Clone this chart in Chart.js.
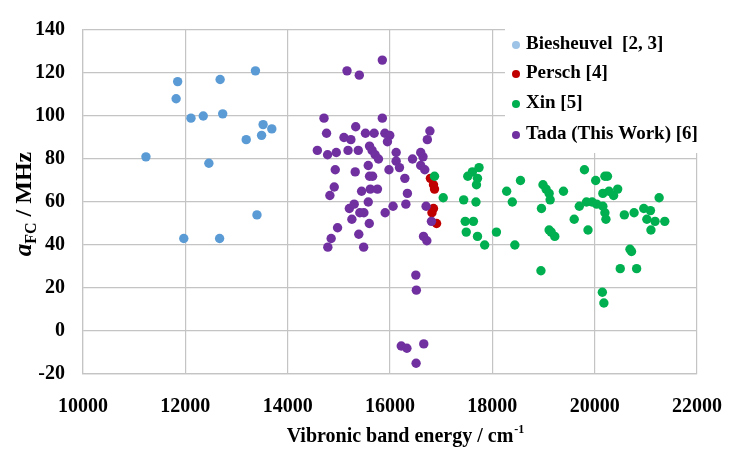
<!DOCTYPE html>
<html>
<head>
<meta charset="utf-8">
<script src="https://cdn.jsdelivr.net/npm/chart.js@4.4.0/dist/chart.umd.min.js"></script>
<style>
  body { margin: 0; background: #fff; }
  #wrap { width: 743px; height: 452px; }
</style>
</head>
<body>
<div id="wrap"><canvas id="graph" width="743" height="452"></canvas></div>
<script>
// x = vibronic band energy (cm-1), y = a_FC (MHz)
const biesheuvelX = [13370, 11850, 12680, 11820, 12110, 12350, 12730, 13520, 13690, 13490, 13190, 11230, 12460, 13400, 11970, 12670];
const biesheuvelY = [121, 116, 117, 108, 99, 100, 101, 96, 94, 91, 89, 81, 78, 54, 43, 43];

const perschX = [16790, 16850, 16870, 16850, 16820, 16910];
const perschY = [71, 68, 66, 57, 55, 50];

const xinX = [16870, 17040, 17520, 17610, 17740, 17710, 17690, 17440, 17680, 17470, 17630, 17490, 17710, 17850, 18080, 18440,
  18280, 18390, 18550, 18990, 19050, 19110, 19130, 18960, 19390, 19110, 19150, 19220, 18950, 19800, 19700, 19840, 19600,
  19870, 20020, 20200, 20250, 20160, 20280, 20370, 20450, 19950, 20040, 20160, 20200, 20220, 20580, 20770, 20960, 21090,
  21020, 21180, 21370, 21100, 21260, 20690, 20720, 20500, 20820, 20150, 20180];
const xinY = [72, 62, 72, 74, 76, 71, 68, 61, 60, 51, 51, 46, 44, 40, 46, 40,
  65, 60, 70, 68, 66, 64, 61, 57, 65, 47, 46, 44, 28, 75, 58, 60, 52,
  47, 70, 72, 72, 64, 65, 63, 66, 60, 59, 58, 55, 52, 54, 55, 57, 56,
  52, 51, 51, 47, 62, 38, 37, 29, 29, 18, 13];

const tadaX = [15850, 15160, 15400, 14710, 15850, 14760, 16780, 16730, 15330, 15100, 15235, 15520, 15690, 15900, 15995, 15950,
  14580, 14780, 14950, 15180, 15380, 15600, 15650, 15710, 15775, 16120, 16120, 16185, 16290, 16440, 16600, 16645,
  16600, 16680, 15980, 14930, 15320, 15575, 15600, 15660, 14910, 14825, 15445, 15615, 15755, 16340, 15575, 15205,
  15300, 16060, 15905, 16310, 15410, 15490, 16705, 15255, 15595, 16810, 14975, 15390, 14850, 14785, 15485, 16655,
  16720, 16505, 16515, 16660, 16220, 16330, 16510];
const tadaY = [126, 121, 119, 99, 99, 92, 93, 89, 95, 90, 89, 92, 92, 92, 91, 88,
  84, 82, 83, 84, 84, 86, 84, 82, 80, 83, 79, 76, 71, 80, 83, 81,
  77, 75, 75, 75, 74, 77, 72, 72, 67, 63, 65, 66, 66, 64, 60, 57,
  59, 58, 55, 59, 55, 55, 58, 52, 50, 51, 48, 45, 43, 39, 39, 44,
  42, 26, 19, -6, -7, -8, -15];

const seriesNames = ['Biesheuvel  [2, 3]', 'Persch [4]', 'Xin [5]', 'Tada (This Work) [6]'];
const seriesColors = ['#5B9BD5', '#C00000', '#00B050', '#7030A0'];
const legendColors = ['#9DC3E6', '#C00000', '#00B050', '#7030A0'];

const xTickLabels = ['10000', '12000', '14000', '16000', '18000', '20000', '22000'];
const yTickLabels = ['-20', '0', '20', '40', '60', '80', '100', '120', '140'];

function pts(xs, ys) {
  return xs.map((x, i) => ({ x: x, y: ys[i] }));
}

const serif = '"Liberation Serif", "Times New Roman", serif';
const gridColor = '#C4C4C4';

// legend box and axis titles (sub/superscripts) drawn by hand
const overlay = {
  id: 'overlay',
  beforeDatasetsDraw(chart) {
    const ctx = chart.ctx;
    ctx.save();
    ctx.fillStyle = '#fff';
    ctx.fillRect(505, 23, 206, 130);
    ctx.font = 'bold 19px ' + serif;
    ctx.textBaseline = 'middle';
    const rows = [44, 73, 103, 134];
    for (let i = 0; i < seriesNames.length; i++) {
      ctx.fillStyle = legendColors[i];
      ctx.beginPath();
      ctx.arc(516, rows[i] + 1, 4, 0, Math.PI * 2);
      ctx.fill();
      ctx.fillStyle = '#000';
      ctx.fillText(seriesNames[i], 526, rows[i]);
    }
    ctx.restore();
  },
  afterDraw(chart) {
    const ctx = chart.ctx;
    ctx.save();
    ctx.fillStyle = '#000';
    ctx.textBaseline = 'middle';

    // x title
    const main = 'Vibronic band energy / cm';
    const sup = '-1';
    ctx.font = 'bold 20px ' + serif;
    const w1 = ctx.measureText(main).width;
    ctx.font = 'bold 12px ' + serif;
    const w2 = ctx.measureText(sup).width;
    let x0 = 405 - (w1 + w2) / 2;
    ctx.font = 'bold 20px ' + serif;
    ctx.fillText(main, x0, 437);
    ctx.font = 'bold 12px ' + serif;
    ctx.fillText(sup, x0 + w1 + 1, 430);

    // y title
    ctx.translate(25, 204);
    ctx.rotate(-Math.PI / 2);
    const a = 'a', sub = 'FC', rest = ' / MHz';
    ctx.font = 'italic bold 25px ' + serif;
    const wa = ctx.measureText(a).width;
    ctx.font = 'bold 16px ' + serif;
    const ws = ctx.measureText(sub).width;
    ctx.font = 'bold 24px ' + serif;
    const wr = ctx.measureText(rest).width;
    let s = -(wa + ws + wr) / 2;
    ctx.font = 'italic bold 25px ' + serif;
    ctx.fillText(a, s, 0);
    ctx.font = 'bold 16px ' + serif;
    ctx.fillText(sub, s + wa, 7);
    ctx.font = 'bold 24px ' + serif;
    ctx.fillText(rest, s + wa + ws, 0);
    ctx.restore();
  }
};

function ds(i, xs, ys, order) {
  return {
    label: seriesNames[i],
    data: pts(xs, ys),
    backgroundColor: seriesColors[i],
    borderColor: seriesColors[i],
    borderWidth: 0,
    pointRadius: 4.7,
    pointHoverRadius: 4.7,
    order: order
  };
}

new Chart(document.getElementById('graph').getContext('2d'), {
  type: 'scatter',
  data: {
    datasets: [
      ds(0, biesheuvelX, biesheuvelY, 4),
      ds(1, perschX, perschY, 3),
      ds(2, xinX, xinY, 2),
      ds(3, tadaX, tadaY, 1)
    ]
  },
  options: {
    responsive: false,
    animation: false,
    layout: { padding: { top: 22, right: 29, left: 0, bottom: 0 } },
    plugins: { legend: { display: false }, tooltip: { enabled: false } },
    scales: {
      x: {
        type: 'linear',
        min: 10000,
        max: 22000,
        ticks: {
          stepSize: 2000,
          maxRotation: 0,
          color: '#000',
          padding: 21,
          font: { family: serif, size: 20, weight: 'bold' },
          callback: (v, i) => xTickLabels[i]
        },
        grid: { color: gridColor, lineWidth: 1.2, drawTicks: false },
        border: { color: gridColor, width: 1.2 },
        afterFit(s) { s.height = 78; }
      },
      y: {
        min: -20,
        max: 140,
        ticks: {
          stepSize: 20,
          color: '#000',
          padding: 18,
          font: { family: serif, size: 20, weight: 'bold' },
          callback: (v, i) => yTickLabels[i]
        },
        grid: { color: gridColor, lineWidth: 1.2, drawTicks: false },
        border: { color: gridColor, width: 1.2 },
        afterFit(s) { s.width = 83; }
      }
    }
  },
  plugins: [overlay]
});
</script>
</body>
</html>
